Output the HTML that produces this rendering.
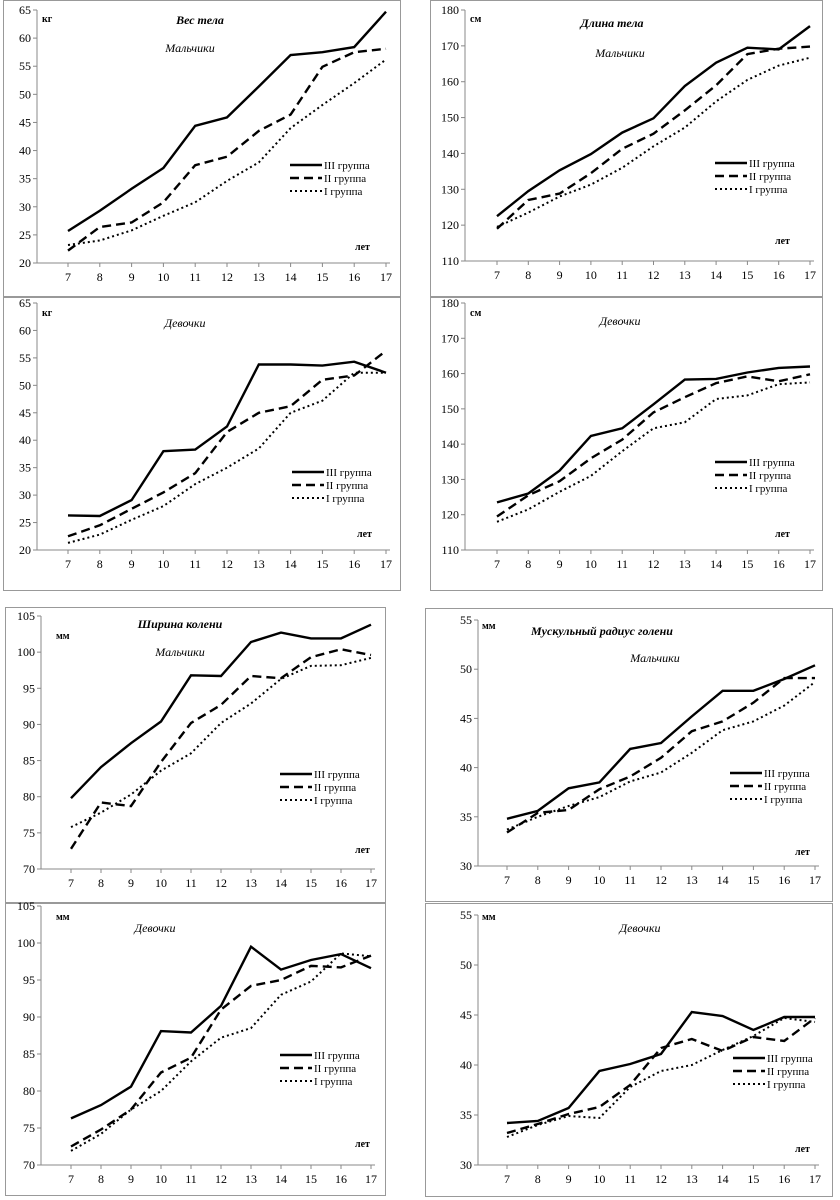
<!DOCTYPE html>
<html><head><meta charset="utf-8"><style>
body{margin:0;background:#fff;}
svg{display:block;font-family:"Liberation Serif","DejaVu Serif",serif;}
</style></head><body>
<svg id="c" width="840" height="1200"></svg>
<script>
const years=[7,8,9,10,11,12,13,14,15,16,17];
const wBoysIII=[25.7,29.3,33.2,36.9,44.4,45.9,51.4,57,57.5,58.4,64.7];
const wBoysII=[22.2,26.4,27.2,30.8,37.4,38.9,43.5,46.4,54.9,57.5,58.1];
const wBoysI=[23.2,24,25.8,28.4,30.8,34.6,37.9,44,48.1,52,56.2];
const wGirlsIII=[26.3,26.2,29.1,38,38.3,42.5,53.8,53.8,53.6,54.3,52.3];
const wGirlsII=[22.5,24.5,27.5,30.5,34,41.5,45,46.2,51,51.8,56.3];
const wGirlsI=[21.3,22.8,25.5,28,32,35,38.5,45,47.2,52.3,52.3];
const lBoysIII=[122.5,129.5,135.3,139.8,145.8,149.8,158.8,165.3,169.5,169,175.5];
const lBoysII=[119,127,128.8,134.5,141.3,145.5,152,159,167.7,169.2,169.8];
const lBoysI=[119.5,123.5,128,131.3,136,142,147.2,154.5,160.5,164.5,166.7];
const lGirlsIII=[123.5,126,132.5,142.3,144.5,151.3,158.3,158.5,160.3,161.6,162];
const lGirlsII=[119.5,125.5,129.5,136,141.3,149,153.3,157.3,159.2,157.8,159.8];
const lGirlsI=[118,121.5,126.5,131,138,144.5,146.2,152.8,153.8,157,157.5];
const kBoysIII=[79.8,84.1,87.4,90.4,96.8,96.7,101.4,102.7,101.9,101.9,103.8];
const kBoysII=[72.8,79.2,78.7,84.8,90.2,92.7,96.7,96.4,99.3,100.4,99.6];
const kBoysI=[75.8,77.8,80.3,83.6,86,90.2,92.9,96.3,98.1,98.2,99.2];
const kGirlsIII=[76.3,78.1,80.6,88.1,87.9,91.5,99.5,96.4,97.7,98.5,96.6];
const kGirlsII=[72.5,74.8,77.5,82.5,84.5,91,94.2,95,96.9,96.7,98.3];
const kGirlsI=[71.9,74.2,77.5,80,84,87.2,88.5,93,94.8,98.6,98.2];
const cBoysIII=[34.8,35.6,37.9,38.5,41.9,42.5,45.2,47.8,47.8,49,50.4];
const cBoysII=[33.4,35.4,35.7,37.8,39.1,41,43.7,44.7,46.6,49.1,49.1];
const cBoysI=[33.7,35,36.1,37,38.6,39.5,41.5,43.8,44.7,46.3,48.7];
const cGirlsIII=[34.2,34.4,35.7,39.4,40.1,41.1,45.3,44.9,43.5,44.8,44.8];
const cGirlsII=[33.2,34.1,35.1,35.8,38,41.7,42.6,41.4,42.8,42.4,44.7];
const cGirlsI=[32.8,34,34.9,34.7,37.8,39.4,40,41.5,42.9,44.7,44.3];
const legendLabels=["III группа","II группа","I группа"];

const NS="http://www.w3.org/2000/svg";
const svg=document.getElementById('c');
function mk(tag,attrs,parent){const e=document.createElementNS(NS,tag);for(const k in attrs)e.setAttribute(k,attrs[k]);(parent||svg).appendChild(e);return e;}
function txt(x,y,s,size,style,parent,anchor){const t=mk('text',{x:x,y:y,'font-size':size,'text-anchor':anchor||'start'},parent);if(style.includes('b'))t.setAttribute('font-weight','bold');if(style.includes('i'))t.setAttribute('font-style','italic');t.textContent=s;return t;}
const dashes=["","9,5","2,3"];
const panels=[
{n:'weight-boys',f:[3,0,397,296],ax:37,ymin:20,ymax:65,step:5,py0:263,py1:10,x0:68,x1:386,unit:'кг',ux:42,uy:22,title:'Вес тела',tx:200,ty:24,sub:'Мальчики',sx:190,sy:52,lx:290,ly:165,ex:355,ey:250,data:[wBoysIII,wBoysII,wBoysI]},
{n:'weight-girls',f:[3,297,397,293],ax:37,ymin:20,ymax:65,step:5,py0:550,py1:303,x0:68,x1:386,unit:'кг',ux:42,uy:316,sub:'Девочки',sx:185,sy:327,lx:292,ly:472,ex:357,ey:537,data:[wGirlsIII,wGirlsII,wGirlsI]},
{n:'length-boys',f:[430,0,392,296],ax:465,ymin:110,ymax:180,step:10,py0:261,py1:10,x0:497,x1:810,unit:'см',ux:470,uy:22,title:'Длина тела',tx:612,ty:27,sub:'Мальчики',sx:620,sy:57,lx:715,ly:163,ex:775,ey:244,data:[lBoysIII,lBoysII,lBoysI]},
{n:'length-girls',f:[430,297,392,293],ax:465,ymin:110,ymax:180,step:10,py0:550,py1:303,x0:497,x1:810,unit:'см',ux:470,uy:316,sub:'Девочки',sx:620,sy:325,lx:715,ly:462,ex:775,ey:537,data:[lGirlsIII,lGirlsII,lGirlsI]},
{n:'knee-boys',f:[5,607,380,295],ax:41,ymin:70,ymax:105,step:5,py0:869,py1:616,x0:71,x1:371,unit:'мм',ux:56,uy:639,title:'Ширина колени',tx:180,ty:628,sub:'Мальчики',sx:180,sy:656,lx:280,ly:774,ex:355,ey:853,data:[kBoysIII,kBoysII,kBoysI]},
{n:'knee-girls',f:[5,903,380,292],ax:41,ymin:70,ymax:105,step:5,py0:1165,py1:906,x0:71,x1:371,unit:'мм',ux:56,uy:920,sub:'Девочки',sx:155,sy:932,lx:280,ly:1055,ex:355,ey:1147,data:[kGirlsIII,kGirlsII,kGirlsI]},
{n:'calf-boys',f:[425,608,407,293],ax:478,ymin:30,ymax:55,step:5,py0:866,py1:620,x0:507,x1:815,unit:'мм',ux:482,uy:629,title:'Мускульный радиус голени',tx:602,ty:635,sub:'Мальчики',sx:655,sy:662,lx:730,ly:773,ex:795,ey:855,data:[cBoysIII,cBoysII,cBoysI]},
{n:'calf-girls',f:[425,903,407,293],ax:478,ymin:30,ymax:55,step:5,py0:1165,py1:915,x0:507,x1:815,unit:'мм',ux:482,uy:920,sub:'Девочки',sx:640,sy:932,lx:733,ly:1058,ex:795,ey:1152,data:[cGirlsIII,cGirlsII,cGirlsI]}
];
panels.forEach(p=>{
  const g=mk('g',{});
  
  
  mk('rect',{x:p.f[0]+0.5,y:p.f[1]+0.5,width:p.f[2],height:p.f[3],fill:'#fff',stroke:'#999','stroke-width':1},g);
  const yS=v=>p.py0+(v-p.ymin)/(p.ymax-p.ymin)*(p.py1-p.py0);
  const xS=i=>p.x0+(years[i]-years[0])/(years[years.length-1]-years[0])*(p.x1-p.x0);
  mk('line',{x1:p.ax,y1:p.py1,x2:p.ax,y2:p.py0,stroke:'#888'},g);
  mk('line',{x1:p.ax,y1:p.py0,x2:p.x1+4,y2:p.py0,stroke:'#888'},g);
  for(let v=p.ymin;v<=p.ymax+0.01;v+=p.step){
    const y=yS(v);
    mk('line',{x1:p.ax-4,y1:y,x2:p.ax,y2:y,stroke:'#888'},g);
    const t=txt(p.ax-6,y+4,String(v),12,'',g,'end');
    
    
  }
  years.forEach((yr,i)=>{
    const x=xS(i);
    mk('line',{x1:x,y1:p.py0,x2:x,y2:p.py0+4,stroke:'#888'},g);
    const t=txt(x,p.py0+18,String(yr),12,'',g,'middle');
    
    
  });
  const u=txt(p.ux,p.uy,p.unit,10,'b',g);
  
  
  if(p.title){const t=txt(p.tx,p.ty,p.title,12,'bi',g,'middle');
    
    }
  const s=txt(p.sx,p.sy,p.sub,12,'i',g,'middle');
  
  
  const e=txt(p.ex,p.ey,'лет',10,'b',g);
  
  
  p.data.forEach((arr,k)=>{
    const pts=arr.map((v,i)=>xS(i).toFixed(1)+','+yS(v).toFixed(1)).join(' ');
    const pl=mk('polyline',{points:pts,fill:'none',stroke:'#000','stroke-width':k==2?2:2.4,'stroke-dasharray':dashes[k]},g);
    
    
    const ly=p.ly+k*13;
    const lg=mk('g',{},g);
    
    
    mk('line',{x1:p.lx,y1:ly,x2:p.lx+32,y2:ly,stroke:'#000','stroke-width':k==2?2:2.4,'stroke-dasharray':dashes[k]},lg);
    txt(p.lx+34,ly+4,legendLabels[k],11,'',lg);
  });
});
</script>
</body></html>
